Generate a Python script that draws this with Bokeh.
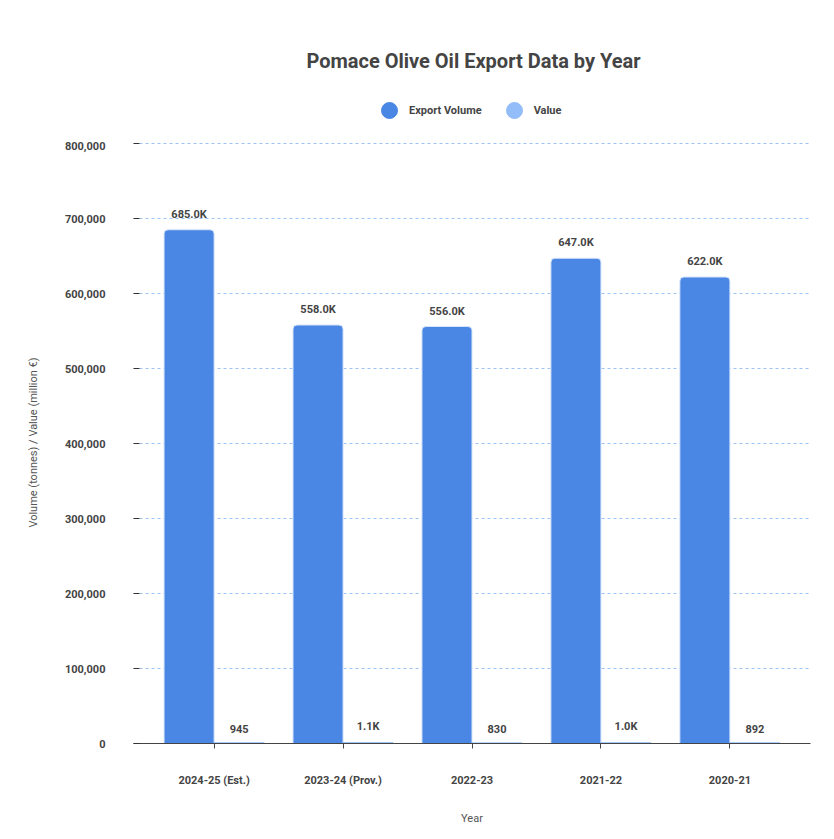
from bokeh.plotting import figure
from bokeh.layouts import column
from bokeh.models import (ColumnDataSource, FactorRange, NumeralTickFormatter, FixedTicker,
                          Legend, LegendItem, Label)
from bokeh.transform import dodge
from bokeh.core.properties import value
from bokeh.embed import file_html
from bokeh.resources import INLINE

TITLE = "Pomace Olive Oil Export Data by Year"
years = ["2024-25 (Est.)", "2023-24 (Prov.)", "2022-23", "2021-22", "2020-21"]
export_volume = [685000, 558000, 556000, 647000, 622000]
export_value = [945, 1100, 830, 1000, 892]
y_ticks = [0, 100000, 200000, 300000, 400000, 500000, 600000, 700000, 800000]
series_names = ["Export Volume", "Value"]


def fmt(v):
    return f"{v / 1000:.1f}K" if v >= 1000 else f"{v}"


src = ColumnDataSource(dict(
    year=years,
    vol=export_volume,
    val=export_value,
    vol_lab=[fmt(v) for v in export_volume],
    val_lab=[fmt(v) for v in export_value],
))

FONT = "Roboto"
VOL_C = "#4a86e4"
VAL_C = "#93bdf8"
W = 826

# ---------------- header: title + legend ----------------
h = figure(width=W, height=141, output_backend="svg", toolbar_location=None,
           x_range=(0, 1), y_range=(0, 1), x_axis_type=None, y_axis_type=None,
           min_border_left=0, min_border_right=0, min_border_top=0, min_border_bottom=0)
h.outline_line_color = None
h.grid.grid_line_color = None

h.add_layout(Label(x=340, y=81, x_units="screen", y_units="screen", text=TITLE,
                   text_font=FONT, text_font_size="20px", text_font_style="bold",
                   text_color="#444444", text_align="center", text_baseline="middle"))

leg_src = ColumnDataSource(dict(x=[0.5], y=[float("nan")]))
r1 = h.scatter(x="x", y="y", source=leg_src, marker="circle", size=16,
               fill_color=VOL_C, line_color=VOL_C)
r2 = h.scatter(x="x", y="y", source=leg_src, marker="circle", size=16,
               fill_color=VAL_C, line_color=VAL_C)
legend = Legend(items=[LegendItem(label=series_names[0], renderers=[r1]),
                       LegendItem(label=series_names[1], renderers=[r2])],
                orientation="horizontal", location=(236, 11),
                label_text_font=FONT, label_text_font_style="bold",
                label_text_font_size="11px", label_text_color="#444444",
                glyph_width=40, glyph_height=40, label_standoff=-2, spacing=12,
                padding=0, margin=0, border_line_color=None,
                background_fill_alpha=0)
h.add_layout(legend, "center")

# ---------------- main chart ----------------
p = figure(width=W, height=690, output_backend="svg", toolbar_location=None,
           x_range=FactorRange(factors=years, range_padding=0.125, range_padding_units="absolute"),
           y_range=(0, 802667),
           min_border_left=133, min_border_right=16, min_border_top=0, min_border_bottom=88)
p.outline_line_color = None

p.vbar(x=dodge("year", -0.194, range=p.x_range), top="vol", width=0.388, source=src,
       fill_color=VOL_C, line_color="#d6e4fa", line_width=1, border_radius=(4, 4, 0, 0))
p.vbar(x=dodge("year", 0.194, range=p.x_range), top="val", width=0.388, source=src,
       fill_color=VAL_C, line_color=VAL_C, line_width=1)

p.text(x=dodge("year", -0.194, range=p.x_range), y="vol", text="vol_lab", source=src,
       text_font=value(FONT), text_font_style="bold", text_font_size="11px",
       text_color="#444444", text_align="center", text_baseline="bottom", y_offset=-9)
p.text(x=dodge("year", 0.194, range=p.x_range), y="val", text="val_lab", source=src,
       text_font=value(FONT), text_font_style="bold", text_font_size="11px",
       text_color="#444444", text_align="center", text_baseline="bottom", y_offset=-10)

# y axis
p.yaxis.ticker = FixedTicker(ticks=y_ticks)
p.yaxis.formatter = NumeralTickFormatter(format="0,0")
p.yaxis.axis_line_color = None
p.yaxis.major_tick_in = 6
p.yaxis.major_tick_out = 0
p.yaxis.major_tick_line_color = "#333333"
p.yaxis.minor_tick_line_color = None
p.yaxis.major_label_standoff = 28
p.yaxis.major_label_text_font = FONT
p.yaxis.major_label_text_font_style = "bold"
p.yaxis.major_label_text_font_size = "11px"
p.yaxis.major_label_text_color = "#444444"
p.yaxis.axis_label = "Volume (tonnes) / Value (million €)"
p.yaxis.axis_label_text_font = FONT
p.yaxis.axis_label_text_font_style = "normal"
p.yaxis.axis_label_text_font_size = "11px"
p.yaxis.axis_label_text_color = "#555555"
p.yaxis.axis_label_standoff = 22

# x axis
p.xaxis.axis_line_color = "#444444"
p.xaxis.major_tick_in = 0
p.xaxis.major_tick_out = 5
p.xaxis.major_tick_line_color = "#444444"
p.xaxis.major_label_standoff = 25
p.xaxis.major_label_text_font = FONT
p.xaxis.major_label_text_font_style = "bold"
p.xaxis.major_label_text_font_size = "11px"
p.xaxis.major_label_text_color = "#444444"
p.xaxis.axis_label = "Year"
p.xaxis.axis_label_text_font = FONT
p.xaxis.axis_label_text_font_style = "normal"
p.xaxis.axis_label_text_font_size = "11px"
p.xaxis.axis_label_text_color = "#555555"
p.xaxis.axis_label_standoff = 22

p.xgrid.grid_line_color = None
p.ygrid.grid_line_color = "#9cc3f5"
p.ygrid.grid_line_dash = "3 3"
p.ygrid.grid_line_width = 1

layout = column(h, p, spacing=0)
open("out.html", "w").write(file_html(layout, INLINE))
